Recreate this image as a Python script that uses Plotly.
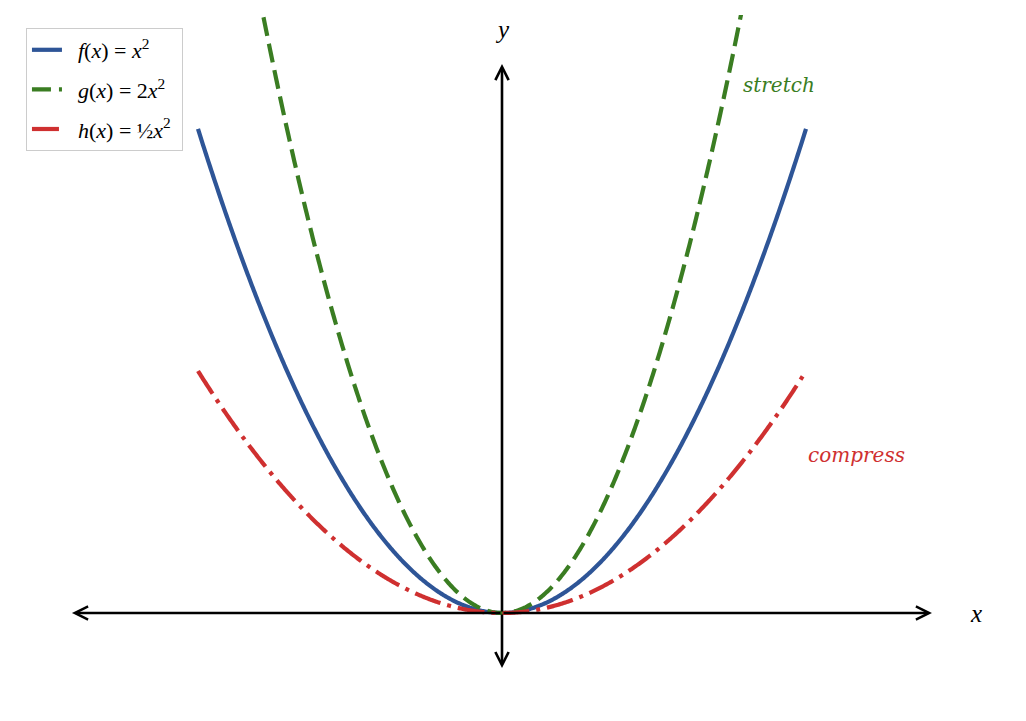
import numpy as np
import plotly.graph_objects as go

# Function definitions (coefficient a in a*x^2) and domain
names = ["&nbsp;&nbsp;<i>f</i>(<i>x</i>) = <i>x</i><sup>2</sup>",
         "&nbsp;&nbsp;<i>g</i>(<i>x</i>) = 2<i>x</i><sup>2</sup>",
         "&nbsp;&nbsp;<i>h</i>(<i>x</i>) = ½<i>x</i><sup>2</sup>&nbsp;"]
coefficients = [1.0, 2.0, 0.5]
x_domain = [-2.0, 2.0]
n_points = 600

colors = ["#2E5597", "#3A7D22", "#CF3030"]
dashes = ["solid", "19px,8px", "27px,7px,4px,7px"]

x = np.linspace(x_domain[0], x_domain[1], n_points)

fig = go.Figure()
for i, (nm, a) in enumerate(zip(names, coefficients)):
    fig.add_trace(go.Scatter(
        x=x, y=a * x**2, mode="lines", name=nm,
        legendgroup=f"g{i}",
        line=dict(color=colors[i], width=4.2, dash=dashes[i], simplify=False),
        hoverinfo="skip"))

# axis arrows
arrow_tips = [(2.829, 0), (-2.829, 0), (0, 4.537), (0, -0.455)]
for tx, ty in arrow_tips:
    fig.add_annotation(x=tx, y=ty, ax=0, ay=0, xref="x", yref="y",
                       axref="x", ayref="y", text="", showarrow=True,
                       arrowhead=5, arrowsize=1.0, arrowwidth=2.6,
                       arrowcolor="black", standoff=0, startstandoff=0)

serif = "DejaVu Serif"
math = "Liberation Serif"
fig.add_annotation(x=0, y=4.826, text="<i>y</i>", showarrow=False,
                   font=dict(family=math, size=25, color="black"))
fig.add_annotation(x=3.118, y=0, text="<i>x</i>", showarrow=False,
                   font=dict(family=math, size=25, color="black"))
fig.add_annotation(x=1.572, y=4.364, text="<i>stretch</i>", showarrow=False,
                   xanchor="left", font=dict(family=serif, size=20, color=colors[1]))
fig.add_annotation(x=2.0, y=1.306, text="<i>compress</i>", showarrow=False,
                   xanchor="left", font=dict(family=serif, size=20, color=colors[2]))

fig.update_layout(
    width=1026, height=721,
    margin=dict(l=0, r=0, t=15, b=0),
    plot_bgcolor="white", paper_bgcolor="white",
    xaxis=dict(range=[-3.3026, 3.4474], visible=False, fixedrange=True),
    yaxis=dict(range=[-0.8926, 4.9421], visible=False, fixedrange=True),
    showlegend=True,
    legend=dict(x=0.0253, y=0.9816, xanchor="left", yanchor="top",
                bgcolor="white", bordercolor="#cccccc", borderwidth=1,
                font=dict(family=math, size=22, color="black"),
                tracegroupgap=8),
)

fig.write_html("out.html", config={"displayModeBar": False},
               post_script="document.body.style.margin='0';")
